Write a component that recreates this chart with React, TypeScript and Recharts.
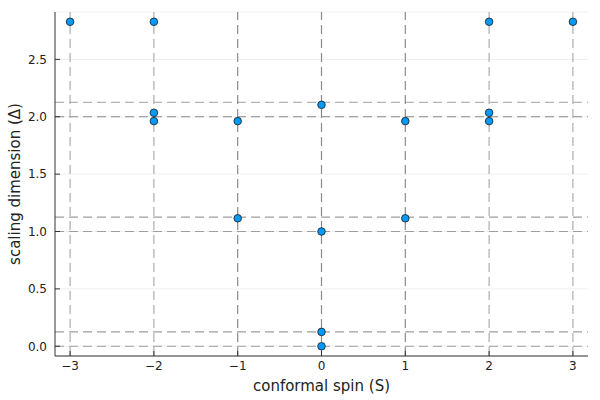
import React from 'react'
import {
  ComposedChart, Scatter, XAxis, YAxis, CartesianGrid, ReferenceLine,
} from 'recharts'

// conformal spin of each state
const spins = [-3, -2, 2, 3, -2, -2, -1, 0, 1, 2, 2, -1, 1, 0, 0, 0]
// scaling dimension of each state
const deltas = [
  2.828, 2.828, 2.828, 2.828,
  2.035, 1.962, 1.962, 2.104, 1.962, 2.035, 1.962,
  1.115, 1.115, 1.0, 0.125, 0.0,
]

// dashed guides
const spinGuides = [-3, -2, -1, 0, 1, 2, 3]
const deltaGuides = [0, 0.125, 1, 1.125, 2, 2.125]

const xTicks = [-3, -2, -1, 0, 1, 2, 3]
const yTicks = [0, 0.5, 1, 1.5, 2, 2.5]

const points = spins.map((s, i) => ({ s, d: deltas[i] }))

const FONT = '"DejaVu Sans", sans-serif'
const tickStyle = { fontSize: 12, fill: '#222', fontFamily: FONT }

// darker where guides overlap in the original
const vColor = (x: number) => (Math.abs(x) <= 1 ? '#8a8a8a' : '#adadad')
const hColor = (y: number) => (y === 2 ? '#8a8a8a' : y === 2.125 ? '#b5b5b5' : '#9e9e9e')

export default function App() {
  return (
    <div style={{ position: 'absolute', left: 0, top: 0, background: '#fff' }}>
      <ComposedChart
        width={600}
        height={400}
        data={points}
        margin={{ top: 12, right: 12, bottom: 0, left: 0 }}
      >
        <CartesianGrid stroke="#efefef" vertical={false} />
        <XAxis
          type="number"
          dataKey="s"
          domain={[-3.18, 3.18]}
          ticks={xTicks}
          allowDataOverflow
          height={44}
          tick={tickStyle}
          tickSize={-5}
          tickMargin={10}
          stroke="#333"
          tickFormatter={(v: number) => String(v).replace('-', '\u2212')}
          label={{
            value: 'conformal spin (S)',
            position: 'insideBottom',
            offset: 9,
            style: { fontSize: 15, fill: '#222', fontFamily: FONT },
          }}
        />
        <YAxis
          type="number"
          dataKey="d"
          domain={[-0.085, 2.913]}
          ticks={yTicks}
          allowDataOverflow
          width={55}
          tick={tickStyle}
          tickSize={-5}
          tickMargin={13}
          stroke="#333"
          tickFormatter={(v: number) => v.toFixed(1)}
          label={{
            value: 'scaling dimension (\u0394)',
            content: (props: any) => {
              const vb = props.viewBox || {}
              const cy = vb.y + vb.height / 2
              return (
                <text
                  x={15}
                  y={cy}
                  transform={`rotate(-90 15 ${cy})`}
                  textAnchor="middle"
                  dominantBaseline="central"
                  style={{ fontSize: 15, fill: '#222', fontFamily: FONT }}
                >
                  scaling dimension (Δ)
                </text>
              )
            },
          }}
        />
        {deltaGuides.map((y) => (
          <ReferenceLine key={'h' + y} y={y} stroke={hColor(y)} strokeWidth={1.2} strokeDasharray="9 5" />
        ))}
        {spinGuides.map((x) => (
          <ReferenceLine key={'v' + x} x={x} stroke={vColor(x)} strokeWidth={1.2} strokeDasharray="9 5" />
        ))}
        <Scatter
          dataKey="d"
          fill="#009afa"
          isAnimationActive={false}
          shape={(p: any) => (
            <circle cx={p.cx} cy={p.cy} r={3.8} fill="#009afa" stroke="#1a1a1a" strokeWidth={0.8} />
          )}
        />
      </ComposedChart>
    </div>
  )
}
